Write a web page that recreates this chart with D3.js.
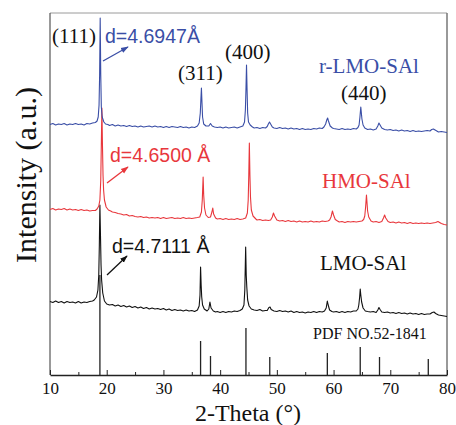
<!DOCTYPE html>
<html><head><meta charset="utf-8">
<script src="https://cdn.jsdelivr.net/npm/d3@7"></script>
<style>body{margin:0;background:#fff}svg{display:block}</style>
</head><body>
<script>
// ---- Data (2-Theta in degrees, intensity in a.u. incl. vertical offset) ----
const rLMO = [[10,250.5],[10.5,251.5],[11,250],[11.5,251],[12,250.5],[12.5,251.5],[13,250],[13.5,251],[14,250.5],[14.5,251.5],[15,250.5],[15.5,251],[16,250],[16.5,251.5],[17,251],[17.5,252],[18.0,252.5],[18.3,254],[18.5,258],[18.65,270],[18.75,300],[18.85,357],[18.95,300],[19.05,268],[19.2,258],[19.5,253],[19.8,251],[20.2,250.5],[20.5,249.5],[21,250.5],[21.5,249],[22,250],[22.5,249],[23,249.5],[23.5,248.5],[24,249.5],[24.5,248.5],[25,249],[25.5,248],[26,249],[26.5,248],[27,248.5],[27.5,249],[28,248],[28.5,249],[29,248],[29.5,248.5],[30,247.5],[30.5,248.5],[31,247.5],[31.5,248.5],[32,248],[32.5,247.5],[33,248.5],[33.5,247.5],[34,248],[34.5,247],[35,248],[35.5,247.5],[36.0,249],[36.3,252],[36.5,262],[36.6,275],[36.7,287],[36.8,272],[36.9,258],[37.1,251],[37.5,249],[38.0,249],[38.3,251.5],[38.6,249],[39,248],[39.5,247.5],[40,248],[40.5,247],[41,248],[41.5,247],[42,247.5],[42.5,248],[43,247],[43.5,248],[44.0,249],[44.3,253],[44.45,265],[44.55,285],[44.65,310],[44.75,285],[44.85,262],[45.0,253],[45.3,250],[45.7,248],[46,247],[46.5,247.5],[47,246.5],[47.5,247.5],[48,247],[48.3,248.5],[48.5,251],[48.7,253],[48.9,251],[49.2,248],[49.5,247],[50,246.5],[50.5,247.5],[51,246.5],[51.5,247],[52,246],[52.5,247],[53,246],[53.5,246.5],[54,245.5],[54.5,246.5],[55,245.5],[55.5,246],[56,245.5],[56.5,246.5],[57,246],[57.5,247],[58,246.5],[58.3,248],[58.6,251],[58.8,255],[58.95,257],[59.1,254],[59.4,249],[59.8,247],[60,246.5],[60.5,246],[61,245.5],[61.5,246.5],[62,245.5],[62.5,246],[63,245.5],[63.5,246.5],[64,246],[64.3,247.5],[64.5,250],[64.65,258],[64.8,268],[64.9,262],[65.0,256],[65.2,250],[65.5,247],[66,245.5],[66.5,246],[67,245],[67.5,246],[67.8,249],[68.0,252],[68.2,250],[68.5,247],[69,245.5],[69.5,245],[70,245.5],[70.5,244.5],[71,245],[71.5,244],[72,245],[72.5,244],[73,244.5],[73.5,243.5],[74,244.5],[74.5,243.5],[75,244],[75.5,243.5],[76,244],[76.5,244.5],[77,244],[77.3,245.5],[77.6,246],[77.9,245],[78.2,244],[78.5,243],[79,243.5],[79.5,243],[80,242.5]];

const HMO = [[10,165.5],[10.5,166.5],[11,165],[11.5,166],[12,165.5],[12.5,166.5],[13,165],[13.5,166],[14,165],[14.5,165.5],[15,164.5],[15.5,165.5],[16,164.5],[16.5,165],[17,164],[17.5,164.5],[18,164.5],[18.3,166],[18.6,169],[18.8,175],[18.95,195],[19.05,230],[19.15,267],[19.25,230],[19.35,200],[19.45,185],[19.6,175],[19.9,168],[20.3,165],[20.7,164],[21,163],[21.5,162.5],[22,161.5],[22.5,161],[23,160],[23.5,160.5],[24,159],[24.5,159.5],[25,158.5],[25.5,158],[26,158.5],[26.5,157.5],[27,158],[27.5,157],[28,157.5],[28.5,157],[29,157.5],[29.5,156.5],[30,157.5],[30.5,156.5],[31,157],[31.5,157.5],[32,156.5],[32.5,157],[33,156.5],[33.5,157.5],[34,156.5],[34.5,157],[35,156.5],[35.5,157],[36,157.5],[36.4,158],[36.7,163],[36.85,175],[37.0,198],[37.1,180],[37.25,167],[37.5,160],[37.9,157.5],[38.3,158],[38.55,163],[38.7,167],[38.85,161],[39.2,157],[39.5,156],[40,156.5],[40.5,155.5],[41,156.5],[41.5,155.5],[42,156],[42.5,155.5],[43,156.5],[43.5,155.5],[44,156],[44.5,157],[44.8,162],[44.95,175],[45.05,200],[45.15,232],[45.25,200],[45.35,178],[45.5,165],[45.8,159],[46.3,156],[46.5,155],[47,155.5],[47.5,154.5],[48,155],[48.5,154.5],[48.9,155],[49.2,158],[49.4,162],[49.6,159],[50,155],[50.5,154],[51,154.5],[51.5,153.5],[52,154.5],[52.5,153.5],[53,154],[53.5,153],[54,154],[54.5,153],[55,153.5],[55.5,153],[56,154],[56.5,153],[57,153.5],[57.5,153],[58,154],[58.5,153.5],[59,154],[59.3,155],[59.55,158],[59.8,164],[60.0,160],[60.3,155.5],[60.7,154],[61,153],[61.5,153.5],[62,152.5],[62.5,153.5],[63,153],[63.5,153.5],[64,153],[64.5,153.5],[65,154],[65.3,155.5],[65.5,159],[65.65,168],[65.8,180],[65.9,172],[66.0,164],[66.2,158],[66.6,154],[67,153],[67.5,153.5],[68,152.5],[68.5,153.5],[68.8,157],[69.0,160],[69.2,157],[69.6,153.5],[70,152.5],[70.5,153],[71,152],[71.5,153],[72,152],[72.5,152.5],[73,151.5],[73.5,152.5],[74,151.5],[74.5,152],[75,151.5],[75.5,152],[76,151.5],[76.5,152],[77,151.5],[77.5,152],[78,152.5],[78.4,153.5],[78.7,152.5],[79,151.5],[79.5,150.5],[80,150]];

const LMO = [[10,73.5],[10.5,72.5],[11,74],[11.5,72.5],[12,73.5],[12.5,72],[13,73.5],[13.5,72.5],[14,73],[14.5,72],[15,73.5],[15.5,72],[16,73],[16.5,72.5],[17,73.5],[17.5,74],[17.8,75],[18.2,78],[18.45,85],[18.6,100],[18.7,130],[18.8,170],[18.9,140],[19.0,110],[19.1,95],[19.3,82],[19.6,74],[20,71],[20.5,70],[21,70.5],[21.5,69],[22,70],[22.5,68.5],[23,69.5],[23.5,68],[24,69],[24.5,67.5],[25,68.5],[25.5,67],[26,68],[26.5,66.5],[27,67.5],[27.5,66],[28,67],[28.5,66],[29,66.5],[29.5,65.5],[30,66.5],[30.5,65],[31,66],[31.5,64.5],[32,65.5],[32.5,64.5],[33,65],[33.5,64],[34,65],[34.5,64],[35,64.5],[35.5,63.5],[36.0,65],[36.3,69],[36.45,80],[36.55,108],[36.65,90],[36.75,78],[36.9,70],[37.2,66],[37.7,64],[38.0,66],[38.2,73],[38.4,67],[38.8,64],[39.2,63],[39.5,63.5],[40,62.5],[40.5,63.5],[41,62.5],[41.5,63.5],[42,63],[42.5,64],[43,63.5],[43.5,64.5],[43.9,66],[44.2,70],[44.35,85],[44.5,128],[44.6,100],[44.7,88],[44.85,75],[45.1,69],[45.5,66],[46,65],[46.5,64.5],[47,65.5],[47.5,64],[48,64.5],[48.3,64.5],[48.6,67.5],[48.8,68],[49.0,65.5],[49.5,64],[50,63.5],[50.5,64.5],[51,63.5],[51.5,64],[52,63],[52.5,64],[53,62.5],[53.5,63.5],[54,62.5],[54.5,63],[55,62],[55.5,63],[56,62.5],[56.5,63.5],[57,62.5],[57.5,63.5],[58,63],[58.4,64],[58.7,67],[58.9,74],[59.05,70],[59.3,65],[59.7,63.5],[60,63],[60.5,63.5],[61,62.5],[61.5,63.5],[62,62.5],[62.5,63.5],[63,63],[63.5,64],[64,64],[64.3,66],[64.45,70],[64.6,78],[64.7,86],[64.8,80],[64.95,73],[65.2,67],[65.6,64],[66,63.5],[66.5,63],[67,63.5],[67.5,62.5],[67.8,65],[68.0,67.5],[68.2,65.5],[68.5,63],[69,62.5],[69.5,63],[70,62],[70.5,62.5],[71,61.5],[71.5,62.5],[72,61.5],[72.5,62],[73,61],[73.5,62],[74,61],[74.5,61.5],[75,60.5],[75.5,61.5],[76,60.5],[76.5,61],[77,61],[77.4,62.5],[77.7,63],[78,61.5],[78.5,60],[79,59.5],[79.5,59],[80,58.5]];

// Standard pattern PDF No. 52-1841: [2-theta, relative height]
const pdfSticks = [[18.8,100],[36.55,34],[38.3,19],[44.55,47],[48.75,18],[58.9,22],[64.7,28],[68.1,18],[76.7,16]];

const xTicks = [10,20,30,40,50,60,70,80];
const xMinorTicks = [15,25,35,45,55,65,75];

// Annotations (data coordinates)
const millerLabels = [["(111)",10.35,332],["(311)",32.57,295],["(400)",40.86,316],["(440)",61.31,275]];
const seriesLabels = [["r-LMO-SAl",57.43,302,"#3a4ea6"],["HMO-SAl",57.96,187,"#e8373c"],["LMO-SAl",57.6,105,"#111"]];
const dLabels = [["d=4.6947Å",19.7,332,"#3a4ea6",[19.35,314],[23.75,328]],
                 ["d=4.6500 Å",20.58,213,"#e8373c",[20.05,192],[23.75,208]],
                 ["d=4.7111 Å",20.93,122,"#111",[20.05,100],[23.58,119]]];
const pdfLabel = ["PDF NO.52-1841",56.38,36];

// ---- Drawing ----
const W=456,H=425;
const svg=d3.select("body").append("svg").attr("width",W).attr("height",H);
const x=d3.scaleLinear().domain([10,80]).range([50,447]);
const y=d3.scaleLinear().domain([0,362]).range([375,13]);
const serif="'Liberation Serif','Times New Roman',serif";
const sans="'Liberation Sans',Arial,sans-serif";

const defs=svg.append("defs");
[["ab","#3a4ea6"],["ar","#e8373c"],["ak","#111"]].forEach(([id,c])=>{
  defs.append("marker").attr("id",id).attr("viewBox","0 0 10 10").attr("refX",9).attr("refY",5)
    .attr("markerWidth",6).attr("markerHeight",6).attr("orient","auto")
    .append("path").attr("d","M0,1.5 L10,5 L0,8.5 Z").attr("fill",c);
});

// frame
svg.append("line").attr("x1",x(10)).attr("x2",x(80)).attr("y1",y(362)).attr("y2",y(362)).attr("stroke","#9a9a9a").attr("stroke-width",1);
svg.append("line").attr("x1",x(80)).attr("x2",x(80)).attr("y1",y(362)).attr("y2",y(0)).attr("stroke","#777").attr("stroke-width",1.5);
svg.append("line").attr("x1",x(10)).attr("x2",x(10)).attr("y1",y(362)).attr("y2",y(0)).attr("stroke","#555").attr("stroke-width",1.2);

// sticks
svg.append("g").selectAll("line").data(pdfSticks).join("line")
  .attr("x1",d=>x(d[0])).attr("x2",d=>x(d[0])).attr("y1",y(0)).attr("y2",d=>y(d[1]))
  .attr("stroke","#222").attr("stroke-width",1.3);

const line=d3.line().x(d=>x(d[0])).y(d=>y(d[1]));
[[LMO,"#111"],[HMO,"#e8373c"],[rLMO,"#3a4ea6"]].forEach(([data,c])=>{
  svg.append("path").datum(data).attr("d",line).attr("fill","none").attr("stroke",c).attr("stroke-width",1.1).attr("stroke-linejoin","round");
});

// bottom axis
const gx=svg.append("g").attr("transform",`translate(0,${y(0)})`)
  .call(d3.axisBottom(x).tickValues(xTicks).tickSizeInner(-5).tickSizeOuter(0).tickPadding(7));
gx.select(".domain").attr("stroke","#222").attr("stroke-width",1.3);
gx.selectAll(".tick line").attr("stroke","#222");
gx.selectAll("text").attr("font-family",serif).attr("font-size",17).attr("fill","#111");
const gm=svg.append("g").attr("transform",`translate(0,${y(0)})`)
  .call(d3.axisBottom(x).tickValues(xMinorTicks).tickSizeInner(-3).tickSizeOuter(0).tickFormat(""));
gm.select(".domain").remove();
gm.selectAll(".tick line").attr("stroke","#222");

// titles
svg.append("text").attr("x",248).attr("y",421).attr("text-anchor","middle").attr("font-family",serif).attr("font-size",24).attr("fill","#111").text("2-Theta (°)");
svg.append("text").attr("transform","translate(36,175) rotate(-90)").attr("text-anchor","middle").attr("font-family",serif).attr("font-size",30).attr("fill","#111").text("Intensity (a.u.)");

// labels
svg.append("g").selectAll("text").data(millerLabels).join("text")
  .attr("x",d=>x(d[1])).attr("y",d=>y(d[2])).attr("font-family",serif).attr("font-size",21).attr("fill","#111").text(d=>d[0]);
svg.append("g").selectAll("text").data(seriesLabels).join("text")
  .attr("x",d=>x(d[1])).attr("y",d=>y(d[2])).attr("font-family",serif).attr("font-size",21).attr("fill",d=>d[3]).text(d=>d[0]);
svg.append("g").selectAll("text").data(dLabels).join("text")
  .attr("x",d=>x(d[1])).attr("y",d=>y(d[2])).attr("font-family",sans).attr("font-size",19.5).attr("fill",d=>d[3]).text(d=>d[0]);
const mk={"#3a4ea6":"ab","#e8373c":"ar","#111":"ak"};
svg.append("g").selectAll("line").data(dLabels).join("line")
  .attr("x1",d=>x(d[4][0])).attr("y1",d=>y(d[4][1])).attr("x2",d=>x(d[5][0])).attr("y2",d=>y(d[5][1]))
  .attr("stroke",d=>d[3]).attr("stroke-width",1.3).attr("marker-end",d=>`url(#${mk[d[3]]})`);
svg.append("text").attr("x",x(pdfLabel[1])).attr("y",y(pdfLabel[2])).attr("font-family",serif).attr("font-size",16).attr("fill","#111").text(pdfLabel[0]);
</script>
</body></html>
